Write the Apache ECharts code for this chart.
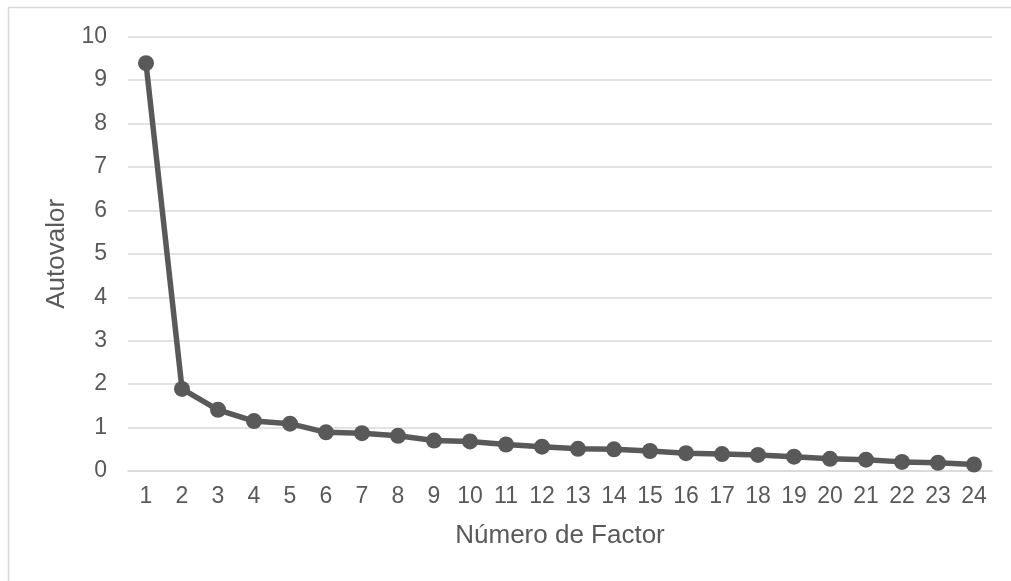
<!DOCTYPE html>
<html>
<head>
<meta charset="utf-8">
<script src="https://cdn.jsdelivr.net/npm/echarts@6/dist/echarts.min.js"></script>
<style>
html,body{margin:0;padding:0;background:#fff;}
#c{width:1011px;height:581px;}
</style>
</head>
<body>
<div id="c"></div>
<script>
const categories = ['1','2','3','4','5','6','7','8','9','10','11','12','13','14','15','16','17','18','19','20','21','22','23','24'];
const eigenvalues = [9.39,1.89,1.41,1.15,1.09,0.89,0.87,0.81,0.70,0.68,0.61,0.56,0.51,0.50,0.46,0.41,0.39,0.37,0.33,0.28,0.26,0.21,0.19,0.15];
const yTicks = [0,1,2,3,4,5,6,7,8,9,10];

const chart = echarts.init(document.getElementById('c'));
chart.setOption({
  animation: false,
  backgroundColor: '#ffffff',
  graphic: [{
    type: 'rect',
    shape: {x: 8.5, y: 7.5, width: 1100, height: 700},
    style: {fill: 'none', stroke: '#d9d9d9', lineWidth: 1.5}
  }],
  grid: {left: 128, right: 19, top: 36.7, bottom: 110},
  xAxis: {
    type: 'category',
    data: categories,
    boundaryGap: true,
    name: 'Número de Factor',
    nameLocation: 'middle',
    nameGap: 52,
    nameTextStyle: {color: '#595959', fontSize: 26, fontFamily: 'Liberation Sans'},
    axisLine: {show: true, lineStyle: {color: '#d9d9d9', width: 1.5}},
    axisTick: {show: false},
    axisLabel: {color: '#595959', fontSize: 23, fontFamily: 'Liberation Sans', margin: 14, interval: 0}
  },
  yAxis: {
    type: 'value',
    min: 0, max: 10, interval: 1,
    name: 'Autovalor',
    nameLocation: 'middle',
    nameGap: 58,
    nameTextStyle: {color: '#595959', fontSize: 26, fontFamily: 'Liberation Sans'},
    axisLine: {show: false},
    axisTick: {show: false},
    splitLine: {lineStyle: {color: '#d9d9d9', width: 1.5}},
    axisLabel: {color: '#595959', fontSize: 23, fontFamily: 'Liberation Sans', margin: 21,
      formatter: v => yTicks.includes(v) ? String(v) : ''}
  },
  series: [{
    type: 'line',
    data: eigenvalues,
    symbol: 'circle',
    symbolSize: 16,
    lineStyle: {color: '#595959', width: 5.5},
    itemStyle: {color: '#595959'}
  }]
});
</script>
</body>
</html>
